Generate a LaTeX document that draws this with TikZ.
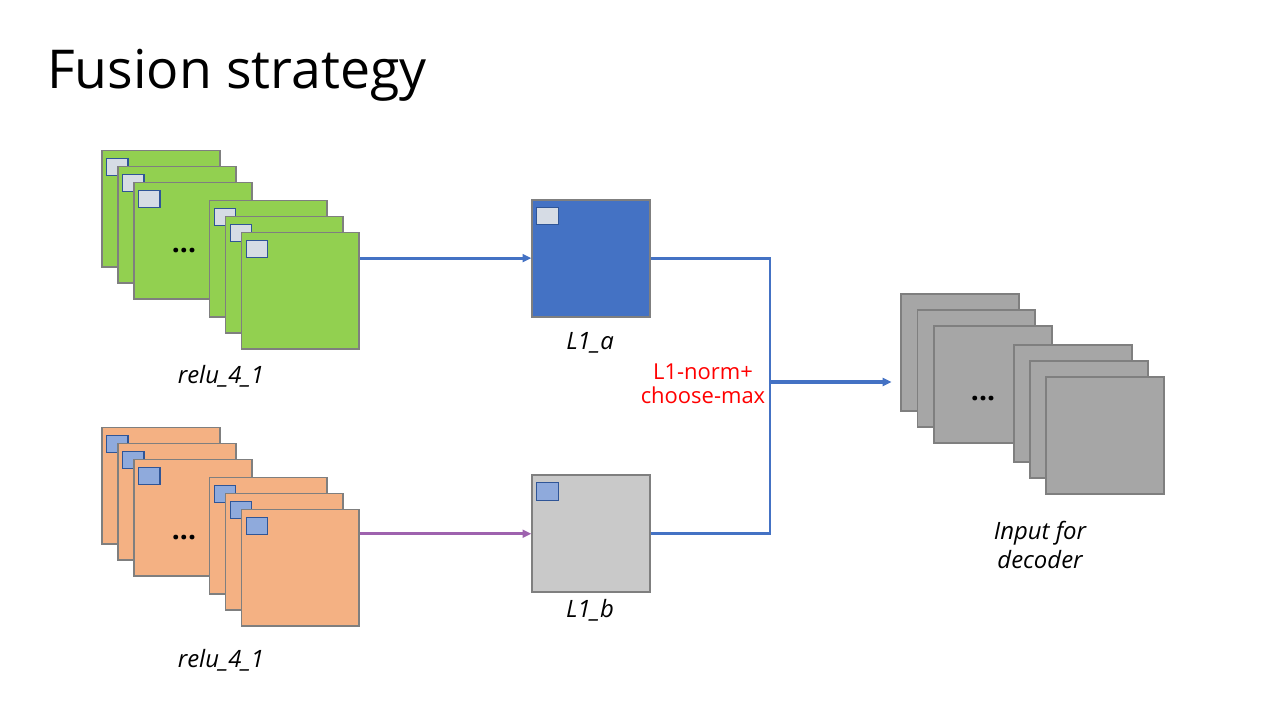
\documentclass[tikz,border=0pt]{standalone}
\usepackage{fontspec}
\setmainfont{Open Sans}
\usetikzlibrary{arrows.meta}
\definecolor{mapgreen}{HTML}{92D050}
\definecolor{maporange}{HTML}{F4B183}
\definecolor{mapblue}{HTML}{4472C4}
\definecolor{mapgray}{HTML}{A6A6A6}
\definecolor{maplight}{HTML}{C9C9C9}
\definecolor{edgegray}{HTML}{7F7F7F}
\definecolor{patchpale}{HTML}{D6DCE5}
\definecolor{patchblue}{HTML}{8FAADC}
\definecolor{patchedge}{HTML}{2F5597}
\definecolor{linkpurple}{HTML}{9E62AE}
\definecolor{rulered}{HTML}{FF0000}
\begin{document}
\begin{tikzpicture}[x=0.02cm, y=-0.02cm,
    sheet/.style={draw=edgegray, line width=1.1pt, minimum width=2.36cm, minimum height=2.34cm, inner sep=0pt, anchor=north west},
    patch/.style={draw=patchedge, line width=0.6pt, minimum width=0.43cm, minimum height=0.35cm, inner sep=0pt, anchor=north west},
    dots/.style={font=\fontsize{16}{16}\selectfont\bfseries},
    caption/.style={font=\fontsize{13.6}{16.4}\selectfont\itshape, align=center},
    link/.style={draw=mapblue, line width=1.6pt},
    tip/.style={-{Triangle[length=5pt,width=4.5pt]}}]
    \path[use as bounding box] (0,0) rectangle (1280,720);

    \node[font=\fontsize{30.5}{34}\selectfont, anchor=base west] (title) at (41,88) {Fusion strategy};

    % relu_4_1 maps of the first image
    \node[sheet, fill=mapgreen] (g1) at (101,149.5) {};
    \node[patch, fill=patchpale] at ([shift={(5,8)}]g1.north west) {};
    \node[sheet, fill=mapgreen] (g2) at (117,165.5) {};
    \node[patch, fill=patchpale] at ([shift={(5,8)}]g2.north west) {};
    \node[sheet, fill=mapgreen] (g3) at (133,181.5) {};
    \node[patch, fill=patchpale] at ([shift={(5,8)}]g3.north west) {};
    \node[dots] (gdots) at (184,251) {...};
    \node[sheet, fill=mapgreen] (g4) at (208.5,199.5) {};
    \node[patch, fill=patchpale] at ([shift={(5,8)}]g4.north west) {};
    \node[sheet, fill=mapgreen] (g5) at (224.5,215.5) {};
    \node[patch, fill=patchpale] at ([shift={(5,8)}]g5.north west) {};
    \node[sheet, fill=mapgreen] (g6) at (240.5,231.5) {};
    \node[patch, fill=patchpale] at ([shift={(5,8)}]g6.north west) {};
    \node[caption] (gname) at (221,376) {relu\_4\_1};

    % relu_4_1 maps of the second image
    \node[sheet, fill=maporange] (o1) at (101,426.5) {};
    \node[patch, fill=patchblue] at ([shift={(5,8)}]o1.north west) {};
    \node[sheet, fill=maporange] (o2) at (117,442.5) {};
    \node[patch, fill=patchblue] at ([shift={(5,8)}]o2.north west) {};
    \node[sheet, fill=maporange] (o3) at (133,458.5) {};
    \node[patch, fill=patchblue] at ([shift={(5,8)}]o3.north west) {};
    \node[dots] (odots) at (184,538) {...};
    \node[sheet, fill=maporange] (o4) at (208.5,476.5) {};
    \node[patch, fill=patchblue] at ([shift={(5,8)}]o4.north west) {};
    \node[sheet, fill=maporange] (o5) at (224.5,492.5) {};
    \node[patch, fill=patchblue] at ([shift={(5,8)}]o5.north west) {};
    \node[sheet, fill=maporange] (o6) at (240.5,508.5) {};
    \node[patch, fill=patchblue] at ([shift={(5,8)}]o6.north west) {};
    \node[caption] (oname) at (221,660) {relu\_4\_1};

    % activity maps
    \node[sheet, fill=mapblue] (la) at (531.3,198.7) {};
    \node[patch, fill=patchpale] at ([shift={(5,8)}]la.north west) {};
    \node[caption] (laname) at (590,343) {L1\_a};
    \node[sheet, fill=maplight] (lb) at (531.3,474.3) {};
    \node[patch, fill=patchblue] at ([shift={(5,8)}]lb.north west) {};
    \node[caption] (lbname) at (590,610) {L1\_b};

    % fused maps
    \node[sheet, fill=mapgray] (d1) at (900.3,293) {};
    \node[sheet, fill=mapgray] (d2) at (916.5,309) {};
    \node[sheet, fill=mapgray] (d3) at (932.7,324.7) {};
    \node[dots] (ddots) at (983,399) {...};
    \node[sheet, fill=mapgray] (d4) at (1013,344) {};
    \node[sheet, fill=mapgray] (d5) at (1029,360) {};
    \node[sheet, fill=mapgray] (d6) at (1044.7,375.7) {};
    \node[caption] (dname) at (1040,545) {Input for\\decoder};

    \coordinate (jn) at (770,382);
    \node[font=\fontsize{12.5}{13.6}\selectfont, text=rulered, align=center] (rule) at (703,384) {L1-norm+\\choose-max};

    \draw[link, tip] (g6.east |- la.west) -- (la.west);
    \draw[link, draw=linkpurple, tip] (o6.east |- lb.west) -- (lb.west);
    \draw[link] (la.east) -| (jn) |- (lb.east);
    \draw[link, line width=2.2pt, tip, shorten >=5pt] (jn) -- (d1.west |- jn);
    \end{tikzpicture}
\end{document}
